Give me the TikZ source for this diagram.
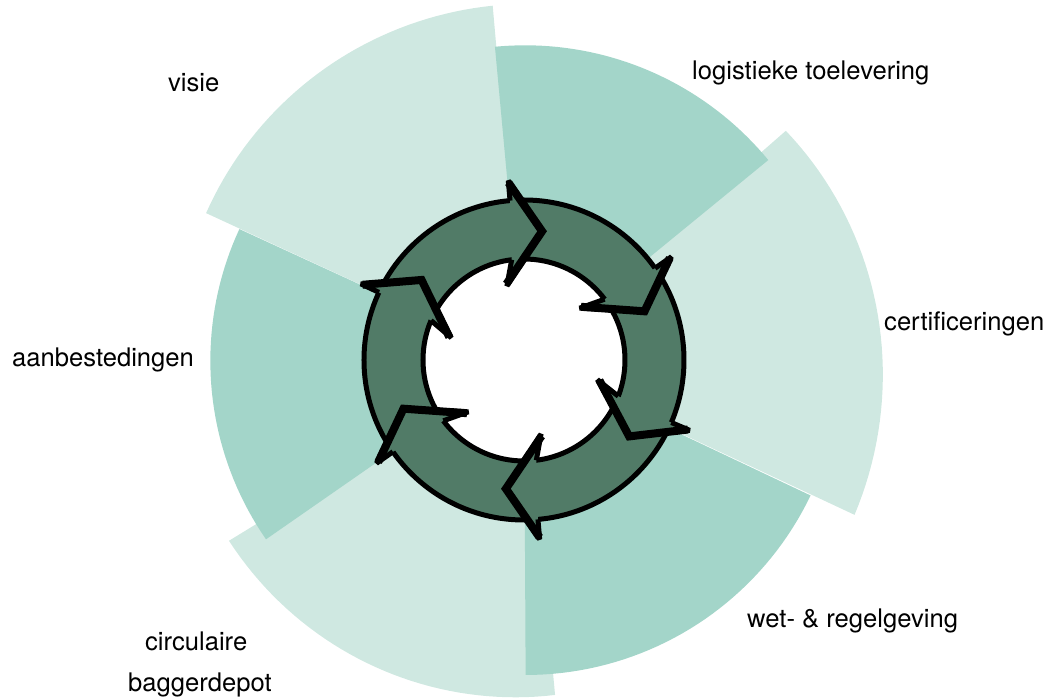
\documentclass[tikz,border=0pt]{standalone}
\usepackage{fontspec}
\setmainfont{TeX Gyre Heros}

\definecolor{sectorlight}{RGB}{207,232,225}
\definecolor{sectormid}{RGB}{163,213,201}
\definecolor{ringgreen}{RGB}{81,123,103}

\begin{document}
\begin{tikzpicture}[x=1pt, y=1pt,
lightsector/.style={fill=sectorlight},
midsector/.style={fill=sectormid},
ringline/.style={draw=black, line width=5pt},
headnode/.style={fill=ringgreen, draw=black, line width=5pt, line join=miter, miter limit=3},
labelnode/.style={font=\fontsize{25.6}{30}\selectfont, inner sep=0pt, anchor=base west},
]
\useasboundingbox (-524,-338) rectangle (521,360);
\coordinate (centre) at (0,0);

% Light sectors first, the darker ones lie on top
\fill[lightsector] (centre) -- plot[domain=95.05:155.2, samples=40] (\x:{355.7-5.5*(\x-95.05)/60.15}) -- cycle;
\fill[lightsector] (centre) -- plot[domain=-25.1:41.2, samples=40] (\x:{365-17*(\x+25.1)/66.3}) -- cycle;
\fill[lightsector] (centre) -- plot[domain=-148.5:-84.7, samples=40] (\x:{346-9.6*(\x+148.5)/63.8}) -- cycle;

% Darker sectors
\fill[midsector] (centre) -- plot[domain=39.3:95.3, samples=40] (\x:{315.7-1.1*(\x-39.3)/56}) -- cycle;
\fill[midsector] (centre) -- plot[domain=-89.7:-25.3, samples=40] (\x:{315+2*(\x+89.7)/64.4}) -- cycle;
\fill[midsector] (centre) -- plot[domain=155.3:214.8, samples=40] (\x:{313.3+0.9*(\x-155.3)/59.5}) -- cycle;

% Ring of arrows
\fill[ringgreen] (centre) circle[radius=160pt];
\fill[white] (centre) circle[radius=101pt];
\draw[ringline] (centre) circle[radius=160pt];
\draw[ringline] (centre) circle[radius=101pt];

\foreach \a in {82,22,-36,-98,-158,142}
{
  \filldraw[headnode] ({\a+13}:160) -- ({\a+13}:180) -- (\a:130) -- ({\a+21}:76) -- ({\a+15}:101);
  \draw[line width=8pt, line join=miter, miter limit=3] ({\a+13}:178) -- (\a:130) -- ({\a+21}:78);
}

% Labels
\node[labelnode] (visie)         at (-356,268)    {visie};
\node[labelnode] (logistiek)     at (168,280)     {logistieke toelevering};
\node[labelnode] (certificering) at (360,29)      {certificeringen};
\node[labelnode] (aanbesteding)  at (-512,-7)     {aanbestedingen};
\node[labelnode] (regelgeving)   at (223,-268)    {wet- \& regelgeving};
\node[labelnode] (circulaire)    at (-379,-290.7) {circulaire};
\node[labelnode] (baggerdepot)   at (-396,-331.7) {baggerdepot};
\end{tikzpicture}
\end{document}
